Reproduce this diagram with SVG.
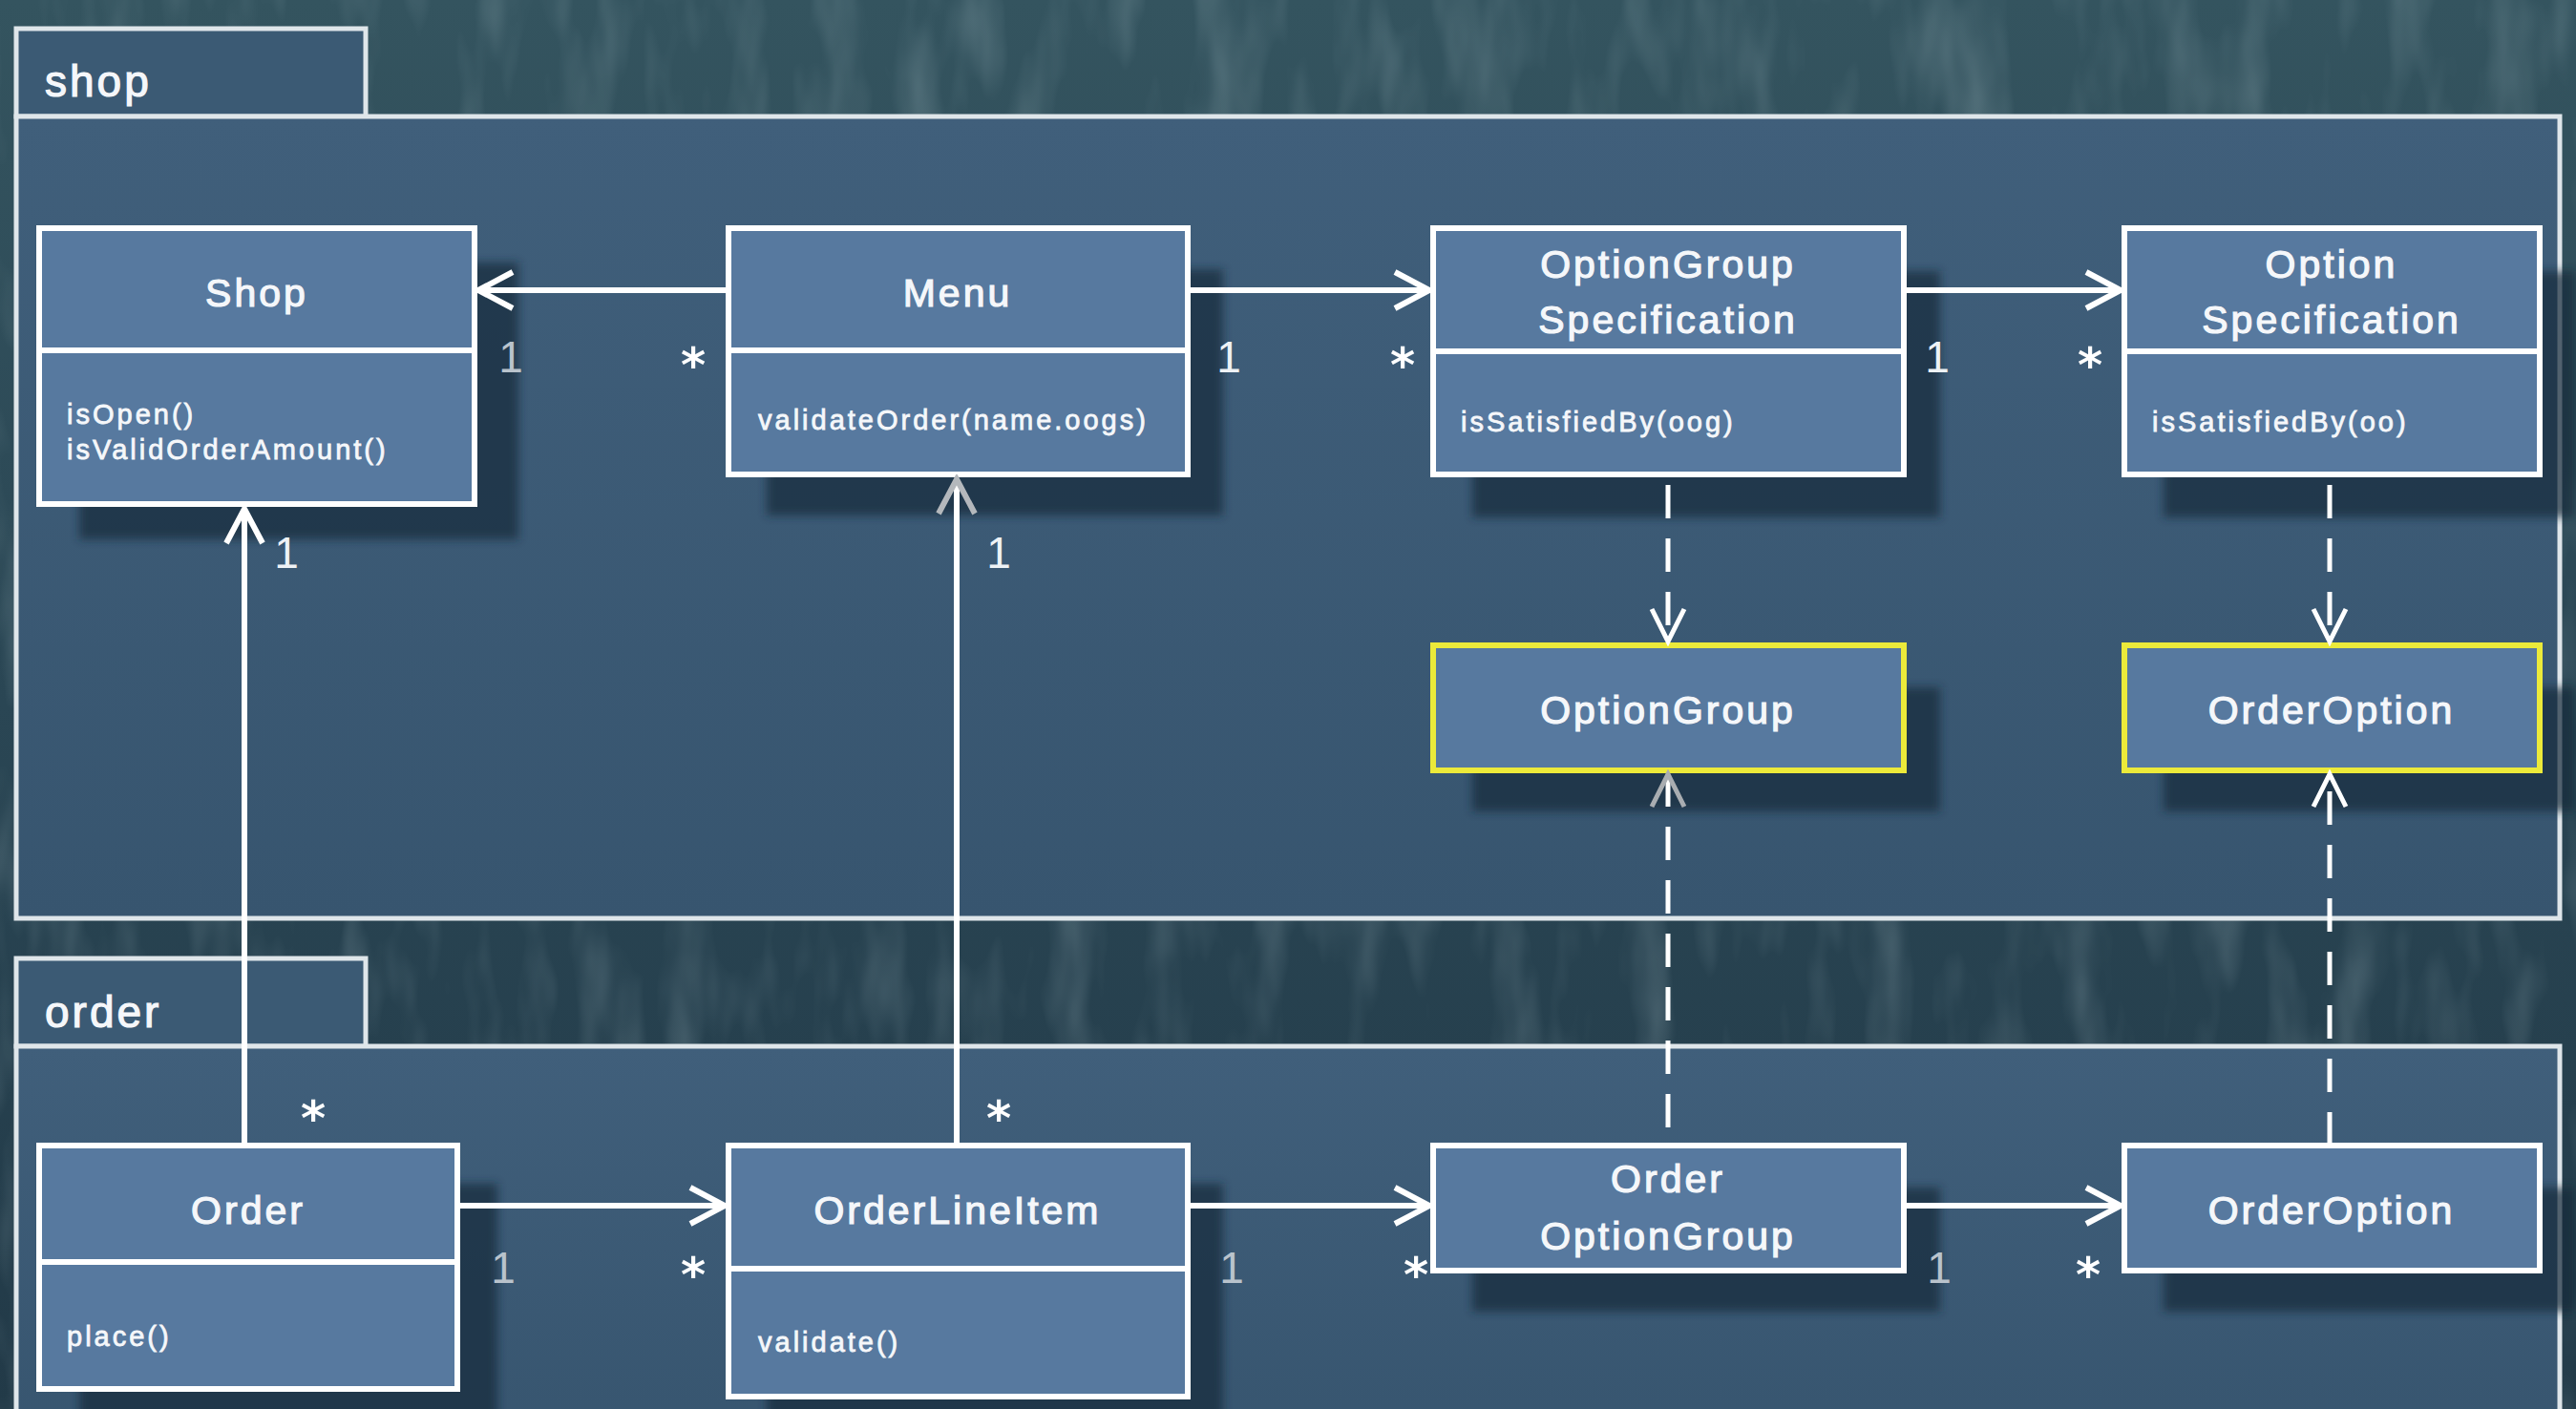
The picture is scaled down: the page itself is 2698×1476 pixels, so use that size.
<svg xmlns="http://www.w3.org/2000/svg" width="2698" height="1476" viewBox="0 0 2698 1476">
<defs>
<style>
.pkg{fill:url(#pkgGrad);stroke:#dfe6ea;stroke-width:5}
.tab{fill:#3b5a74;stroke:#dfe6ea;stroke-width:5}
.box{fill:#57799f;stroke:#ffffff;stroke-width:6}
.ybox{fill:#57799f;stroke:#ecea3a;stroke-width:6}
.div{stroke:#ffffff;stroke-width:6}
.shadow{fill:#17293a;opacity:0.7;filter:url(#blur)}
.title{font-family:"Liberation Sans",Arial,sans-serif;font-size:41px;fill:#f5f7fa;stroke:#f5f7fa;stroke-width:1.2px;text-anchor:middle;letter-spacing:3px}
.method{font-family:"Liberation Sans",Arial,sans-serif;font-size:29px;fill:#f5f7fa;stroke:#f5f7fa;stroke-width:0.8px;letter-spacing:3px}
.pkglabel{font-family:"Liberation Sans",Arial,sans-serif;font-size:46px;fill:#f5f7fa;stroke:#f5f7fa;stroke-width:1.2px;letter-spacing:3px}
.one{font-family:"Liberation Sans",Arial,sans-serif;font-size:46px;fill:#eef2f5;text-anchor:middle}
.onegrey{font-family:"Liberation Sans",Arial,sans-serif;font-size:46px;fill:#b9c3cc;text-anchor:middle}
.star{font-family:"DejaVu Sans",sans-serif;font-weight:bold;font-size:50px;fill:#ffffff;text-anchor:middle}
.assoc{fill:none;stroke:#ffffff;stroke-width:6;marker-end:url(#arrow)}
.assocg{fill:none;stroke:#ffffff;stroke-width:6;marker-end:url(#arrowGrey)}
.dep{fill:none;stroke:#ffffff;stroke-width:5;stroke-dasharray:35 21;marker-end:url(#arrowThin)}
.depg{fill:none;stroke:#ffffff;stroke-width:5;stroke-dasharray:35 21;marker-end:url(#arrowThinGrey)}
</style>
<linearGradient id="bgGrad" x1="0" y1="0" x2="0" y2="1">
<stop offset="0" stop-color="#34545f"/>
<stop offset="0.5" stop-color="#2a4654"/>
<stop offset="1" stop-color="#223a48"/>
</linearGradient>
<linearGradient id="pkgGrad" x1="0" y1="0" x2="0" y2="1">
<stop offset="0" stop-color="#405f7b"/>
<stop offset="1" stop-color="#37556f"/>
</linearGradient>
<filter id="blur" x="-10%" y="-10%" width="120%" height="120%">
<feGaussianBlur stdDeviation="5"/>
</filter>
<filter id="noise" x="0" y="0" width="100%" height="100%">
<feTurbulence type="fractalNoise" baseFrequency="0.02 0.006" numOctaves="3" seed="4"/>
<feColorMatrix type="matrix" values="0 0 0 0 0.6  0 0 0 0 0.75  0 0 0 0 0.8  0 0 0 1.2 -0.55"/>
</filter>
<marker id="arrow" markerUnits="userSpaceOnUse" markerWidth="50" markerHeight="50" viewBox="-45 -25 50 50" refX="0" refY="0" orient="auto">
<path d="M-36,-19 L0,0 L-36,19" fill="none" stroke="#ffffff" stroke-width="6"/>
</marker>
<marker id="arrowGrey" markerUnits="userSpaceOnUse" markerWidth="50" markerHeight="50" viewBox="-45 -25 50 50" refX="0" refY="0" orient="auto">
<path d="M-36,-19 L0,0 L-36,19" fill="none" stroke="#b4b8bc" stroke-width="6"/>
</marker>
<marker id="arrowThin" markerUnits="userSpaceOnUse" markerWidth="50" markerHeight="50" viewBox="-45 -25 50 50" refX="0" refY="0" orient="auto">
<path d="M-34,-17 L0,0 L-34,17" fill="none" stroke="#ffffff" stroke-width="5"/>
</marker>
<marker id="arrowThinGrey" markerUnits="userSpaceOnUse" markerWidth="50" markerHeight="50" viewBox="-45 -25 50 50" refX="0" refY="0" orient="auto">
<path d="M-34,-17 L0,0 L-34,17" fill="none" stroke="#a9adb1" stroke-width="5"/>
</marker>
</defs>

<rect x="0" y="0" width="2698" height="1476" fill="url(#bgGrad)"/>
<rect x="0" y="0" width="2698" height="1476" filter="url(#noise)" opacity="0.35"/>

<g id="pkg-shop">
<rect class="tab" x="17" y="30" width="366" height="92"/>
<rect class="pkg" x="17" y="122" width="2664" height="840"/>
<text class="pkglabel" x="47" y="101">shop</text>
</g>

<g id="pkg-order">
<rect class="tab" x="17" y="1004" width="366" height="92"/>
<rect class="pkg" x="17" y="1096" width="2664" height="420"/>
<text class="pkglabel" x="47" y="1076">order</text>
</g>

<g id="Shop">
<rect class="shadow" x="83" y="275" width="460" height="290"/>
<rect class="box" x="41" y="239" width="456" height="289"/>
<line class="div" x1="41" y1="367" x2="497" y2="367"/>
<text class="title" x="269" y="321">Shop</text>
<text class="method" x="70" y="444">isOpen()</text>
<text class="method" x="70" y="481">isValidOrderAmount()</text>
</g>

<g id="Menu">
<rect class="shadow" x="803" y="282" width="478" height="258"/>
<rect class="box" x="763" y="239" width="481" height="258"/>
<line class="div" x1="763" y1="367" x2="1244" y2="367"/>
<text class="title" x="1003" y="321">Menu</text>
<text class="method" x="794" y="450">validateOrder(name.oogs)</text>
</g>

<g id="OptionGroupSpecification">
<rect class="shadow" x="1542" y="284" width="490" height="258"/>
<rect class="box" x="1501" y="239" width="493" height="258"/>
<line class="div" x1="1501" y1="368" x2="1994" y2="368"/>
<text class="title" x="1747" y="291">OptionGroup</text>
<text class="title" x="1747" y="349">Specification</text>
<text class="method" x="1530" y="452">isSatisfiedBy(oog)</text>
</g>

<g id="OptionSpecification">
<rect class="shadow" x="2266" y="284" width="432" height="258"/>
<rect class="box" x="2225" y="239" width="435" height="258"/>
<line class="div" x1="2225" y1="368" x2="2660" y2="368"/>
<text class="title" x="2442" y="291">Option</text>
<text class="title" x="2442" y="349">Specification</text>
<text class="method" x="2254" y="452">isSatisfiedBy(oo)</text>
</g>

<g id="OptionGroup">
<rect class="shadow" x="1542" y="720" width="490" height="130"/>
<rect class="ybox" x="1501" y="676" width="493" height="131"/>
<text class="title" x="1747" y="758">OptionGroup</text>
</g>

<g id="OrderOptionShop">
<rect class="shadow" x="2266" y="720" width="432" height="130"/>
<rect class="ybox" x="2225" y="676" width="435" height="131"/>
<text class="title" x="2442" y="758">OrderOption</text>
</g>

<g id="Order">
<rect class="shadow" x="83" y="1240" width="438" height="255"/>
<rect class="box" x="41" y="1200" width="438" height="255"/>
<line class="div" x1="41" y1="1322" x2="479" y2="1322"/>
<text class="title" x="260" y="1282">Order</text>
<text class="method" x="70" y="1410">place()</text>
</g>

<g id="OrderLineItem">
<rect class="shadow" x="803" y="1240" width="478" height="263"/>
<rect class="box" x="763" y="1200" width="481" height="263"/>
<line class="div" x1="763" y1="1329" x2="1244" y2="1329"/>
<text class="title" x="1003" y="1282">OrderLineItem</text>
<text class="method" x="794" y="1416">validate()</text>
</g>

<g id="OrderOptionGroup">
<rect class="shadow" x="1542" y="1244" width="490" height="130"/>
<rect class="box" x="1501" y="1200" width="493" height="131"/>
<text class="title" x="1747" y="1249">Order</text>
<text class="title" x="1747" y="1309">OptionGroup</text>
</g>

<g id="OrderOption">
<rect class="shadow" x="2266" y="1244" width="432" height="130"/>
<rect class="box" x="2225" y="1200" width="435" height="131"/>
<text class="title" x="2442" y="1282">OrderOption</text>
</g>

<g id="connectors">
<path class="assoc" d="M763,304 H501"/>
<path class="assoc" d="M1244,304 H1497"/>
<path class="assoc" d="M1994,304 H2221"/>
<path class="assoc" d="M256,1200 V533"/>
<path class="assocg" d="M1002,1200 V502"/>
<path class="assoc" d="M479,1263 H759"/>
<path class="assoc" d="M1244,1263 H1497"/>
<path class="assoc" d="M1994,1263 H2221"/>
<path class="dep" d="M1747,508 V672"/>
<path class="dep" d="M2440,508 V672"/>
<path class="depg" d="M1747,1181 V811"/>
<path class="dep" d="M2440,1200 V811"/>

<text class="onegrey" x="535" y="390">1</text>
<text class="star" x="726" y="400">*</text>
<text class="one" x="1287" y="390">1</text>
<text class="star" x="1469" y="400">*</text>
<text class="one" x="2029" y="390">1</text>
<text class="star" x="2189" y="400">*</text>

<text class="one" x="300" y="595">1</text>
<text class="one" x="1046" y="595">1</text>
<text class="star" x="328" y="1189">*</text>
<text class="star" x="1046" y="1189">*</text>

<text class="onegrey" x="527" y="1344">1</text>
<text class="star" x="726" y="1353">*</text>
<text class="onegrey" x="1290" y="1344">1</text>
<text class="star" x="1483" y="1353">*</text>
<text class="onegrey" x="2031" y="1344">1</text>
<text class="star" x="2187" y="1353">*</text>
</g>
</svg>
